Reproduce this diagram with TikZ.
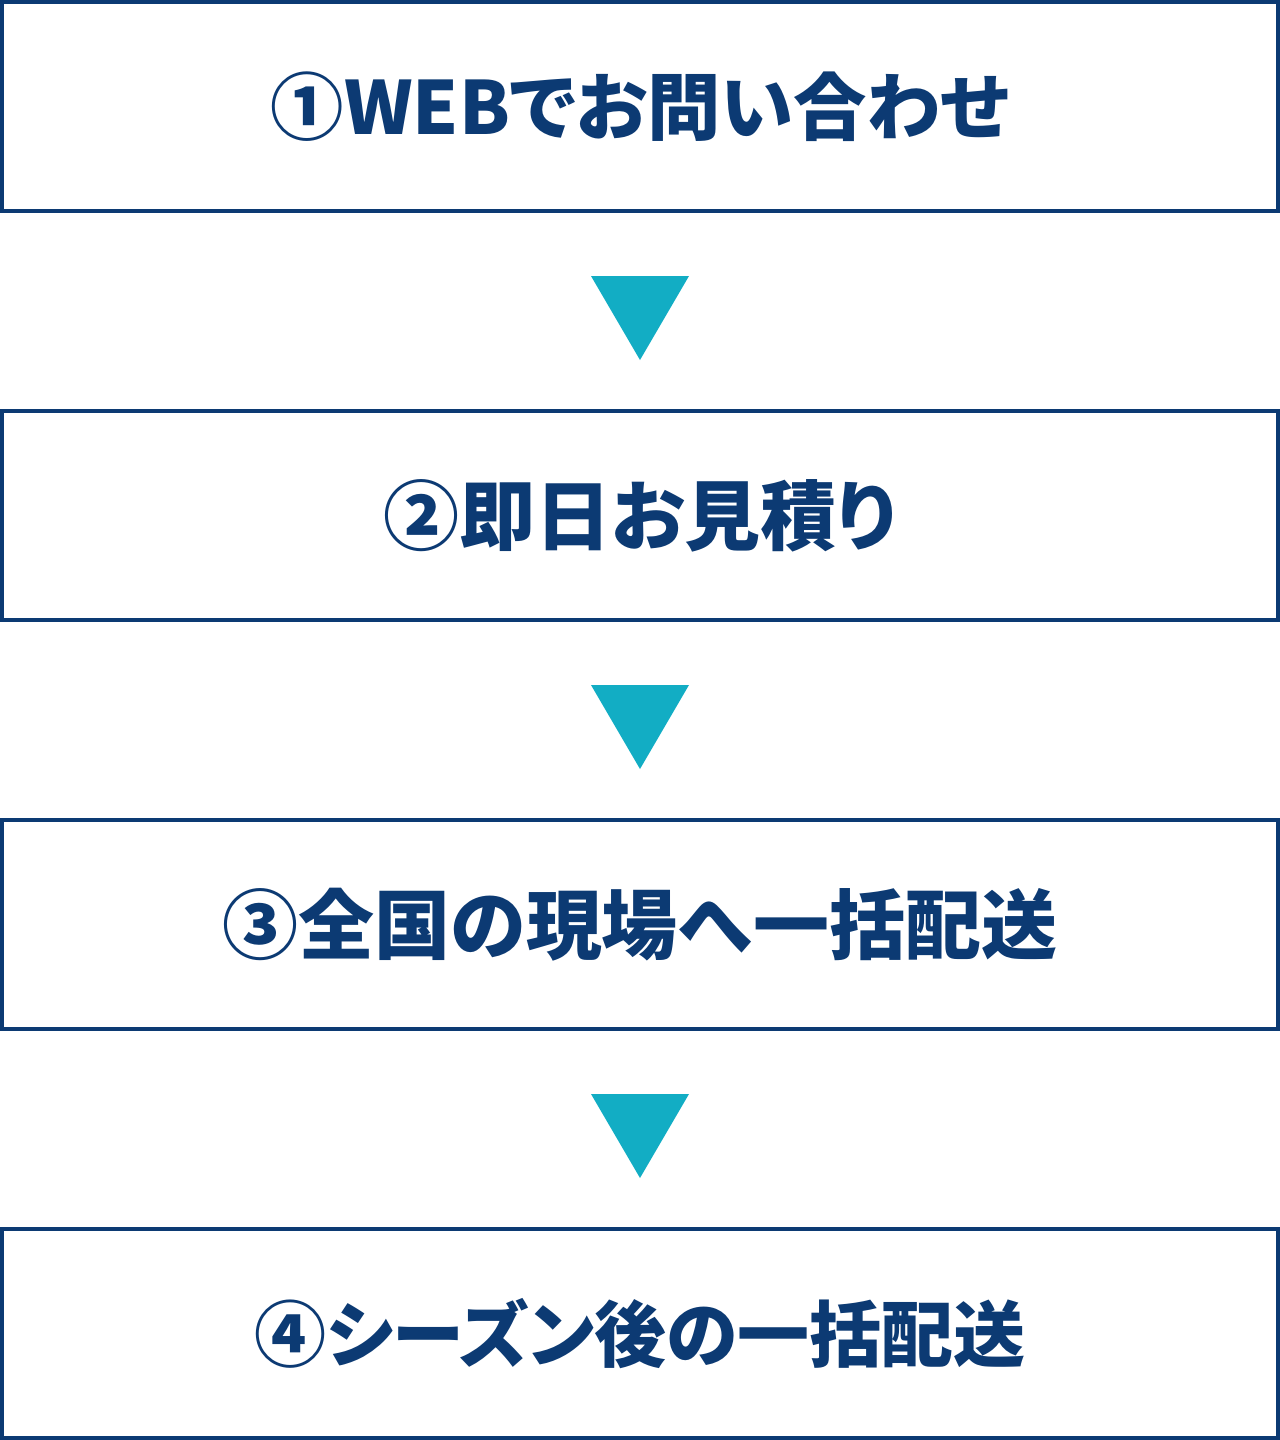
\documentclass[tikz,border=0pt]{standalone}
\usepackage{fontspec}
\setmainfont{Noto Sans CJK JP}[RawFeature=+palt,BoldFont={Noto Sans CJK JP Black}]
\newfontfamily\jpwide{Noto Sans CJK JP}[BoldFont={Noto Sans CJK JP Black}]
\definecolor{navy}{HTML}{0C3A73}
\definecolor{teal}{HTML}{12ADC4}
\begin{document}
\begin{tikzpicture}[x=0.75pt,y=-0.75pt,
  stepbox/.style={draw=navy,line width=3pt,fill=white,minimum width=957pt,minimum height=156.75pt,inner sep=0pt,
    font=\fontsize{55}{60}\selectfont\bfseries,text=navy},
  tri/.style={fill=teal,draw=none}]
\useasboundingbox (0,0) rectangle (1280,1440);
\node[stepbox] (s1) at (640,106.5) {①WEBでお問い合わせ};
\node[stepbox,font=\fontsize{57}{60}\selectfont\bfseries] (s2) at (640,515.5) {②即日お見積り};
\node[stepbox,font=\jpwide\fontsize{57}{60}\selectfont\bfseries] (s3) at (640,924.5) {③全国の現場へ一括配送};
\node[stepbox,font=\fontsize{54}{60}\selectfont\bfseries] (s4) at (640,1333.5) {④シーズン後の一括配送};
\foreach \a/\b in {s1/s2,s2/s3,s3/s4}{
  \path (\a.south) ++(0,63) coordinate (t);
  \fill[tri] (t) ++(-49,0) -- ++(98,0) -- ++(-49,84) -- cycle;
}
\end{tikzpicture}
\end{document}
